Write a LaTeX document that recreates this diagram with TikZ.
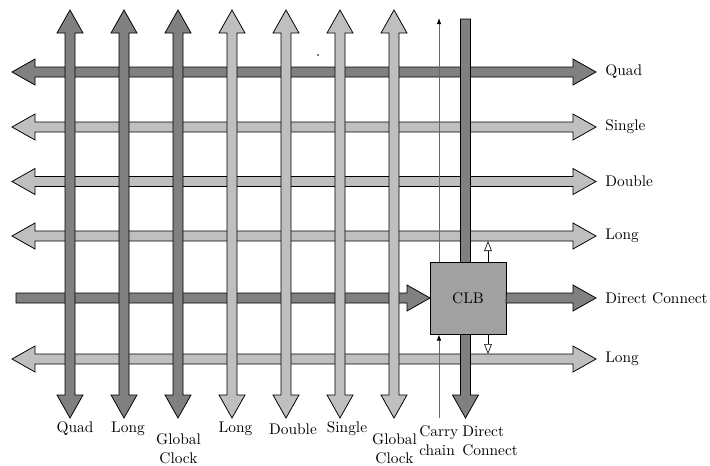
\documentclass[tikz,border=0pt]{standalone}
\usetikzlibrary{arrows.meta}
\tikzset{
  darkarrow/.style={fill=gray, draw=black, line width=0.5pt},
  lightarrow/.style={fill=black!25, draw=black, line width=0.5pt},
  clbbox/.style={fill=black!37, draw=black, line width=0.5pt, minimum width=49.4pt, minimum height=46.8pt, inner sep=0pt},
  lbl/.style={inner sep=0pt, anchor=base},
  rlbl/.style={inner sep=0pt, anchor=west},
  carryline/.style={draw=black!60, line width=0.6pt, -{Latex[length=4pt,width=3pt,color=black]}},
  hollowarrow/.style={draw=black, line width=0.4pt, -{Triangle[open, length=6.5pt, width=5pt]}},
}
\newcommand\hdbl[4]{\draw[#4] (#1,#3) -- ++(23,-13) -- ++(0,8) -- ({#2-23},{#3-5}) -- ++(0,-8) -- (#2,#3) -- ++(-23,13) -- ++(0,-8) -- ({#1+23},{#3+5}) -- ++(0,8) -- cycle;}
\newcommand\vdbl[4]{\draw[#4] (#1,#2) -- ++(13,23) -- ++(-8,0) -- ({#1+5},{#3-23}) -- ++(8,0) -- (#1,#3) -- ++(-13,-23) -- ++(8,0) -- ({#1-5},{#2+23}) -- ++(-8,0) -- cycle;}
\begin{document}
\begin{tikzpicture}[x=0.65pt,y=-0.65pt]
\useasboundingbox (0,0) rectangle (710,465);
% horizontal tracks
\hdbl{12}{596}{72}{darkarrow}
\hdbl{12}{596}{127}{lightarrow}
\hdbl{12}{596}{181.5}{lightarrow}
\hdbl{12}{596}{236}{lightarrow}
\hdbl{12}{596}{359}{lightarrow}
% direct connect input
\draw[darkarrow] (16,293) -- (407,293) -- (407,285) -- (430,298) -- (407,311) -- (407,303) -- (16,303) -- cycle;
% vertical tracks
\vdbl{70}{10}{418}{darkarrow}
\vdbl{124}{10}{418}{darkarrow}
\vdbl{178}{10}{418}{darkarrow}
\vdbl{232}{10}{418}{lightarrow}
\vdbl{286}{10}{418}{lightarrow}
\vdbl{340}{10}{418}{lightarrow}
\vdbl{394}{10}{418}{lightarrow}
% direct vertical
\draw[darkarrow] (460.5,19) -- (460.5,395) -- (452.5,395) -- (465.5,418) -- (478.5,395) -- (470.5,395) -- (470.5,19) -- cycle;
% CLB
\node[clbbox] (clb) at (468,298) {CLB};
% direct connect output
\draw[darkarrow] (clb.east) ++(0,-5) -- (573,293) -- (573,285) -- (596,298) -- (573,311) -- (573,303) -- (506,303) -- cycle;
% carry chain
\coordinate (carrytop) at (439,18);
\coordinate (carrybot) at (439,418);
\draw[carryline] (clb.north -| carrytop) -- (carrytop);
\draw[carryline] (carrybot) -- (clb.south -| carrybot);
% hollow arrows to long lines
\coordinate (longup) at (488,241);
\coordinate (longdn) at (488,354);
\draw[hollowarrow] (clb.north -| longup) -- (longup);
\draw[hollowarrow] (clb.south -| longdn) -- (longdn);
% stray dot
\fill[black!50] (317,54) rectangle (319,56);
% right labels
\node[rlbl] (lq) at (605,72) {Quad};
\node[rlbl] (ls) at (605,127) {Single};
\node[rlbl] (ld) at (605,181.5) {Double};
\node[rlbl] (ll1) at (605,236) {Long};
\node[rlbl] (ldc) at (605,298) {Direct Connect};
\node[rlbl] (ll2) at (605,359) {Long};
% bottom labels
\node[lbl] (bq) at (75,432) {Quad};
\node[lbl] (bl1) at (128,432) {Long};
\node[lbl, align=center] (bg1) at (178.5,463) {Global\\Clock};
\node[lbl] (bl2) at (235.5,432) {Long};
\node[lbl] (bd) at (293,434) {Double};
\node[lbl] (bs) at (347,432) {Single};
\node[lbl, align=center] (bg2) at (394.5,463) {Global\\Clock};
\node[inner sep=0pt, anchor=base west, align=left] (bc) at (419,455) {Carry\\chain};
\node[inner sep=0pt, anchor=base west, align=left] (bdc) at (462,455) {Direct\\Connect};
\end{tikzpicture}
\end{document}
